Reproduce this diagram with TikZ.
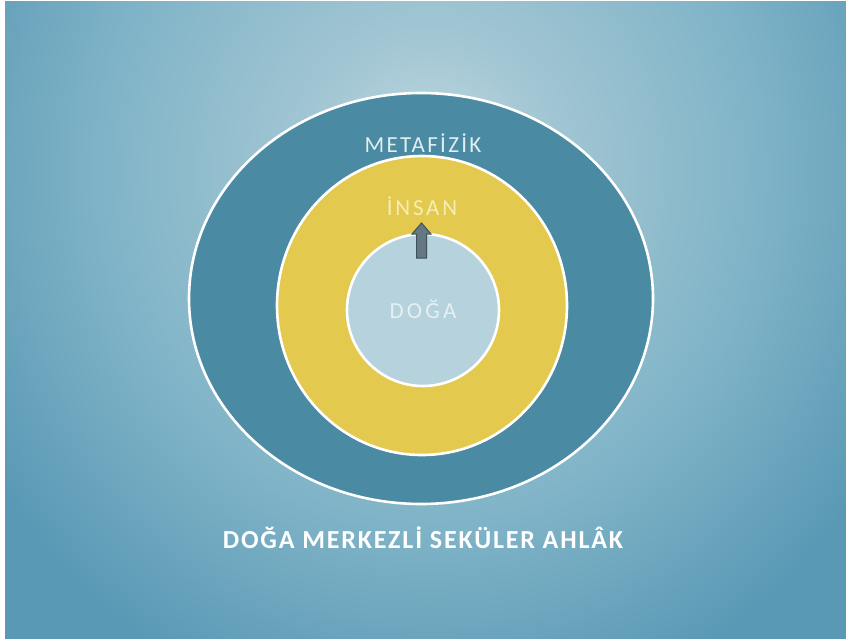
\documentclass[tikz,border=0pt]{standalone}
\usepackage{fontspec}
\setmainfont{Carlito}
\definecolor{bgin}{HTML}{C2DAE2}
\definecolor{bgmid}{HTML}{A2C6D3}
\definecolor{bgmid2}{HTML}{7FB3C7}
\definecolor{bgout}{HTML}{5A99B5}
\definecolor{metafill}{HTML}{4A8AA3}
\definecolor{insanfill}{HTML}{E4C94F}
\definecolor{dogafill}{HTML}{B6D2DC}
\definecolor{metatext}{HTML}{E0EEF2}
\definecolor{insantext}{HTML}{F6EDB4}
\definecolor{dogatext}{HTML}{E6F0F3}
\definecolor{arrowfill}{HTML}{637883}
\definecolor{arrowline}{HTML}{3F525C}
\pgfdeclareradialshading{bgshade}{\pgfpoint{0bp}{0bp}}{color(0bp)=(bgin); color(6bp)=(bgmid); color(16bp)=(bgmid2); color(25bp)=(bgout); color(50bp)=(bgout)}
\tikzset{
  ring/.style={draw=white, line width=2.6pt},
  lbl/.style={inner sep=0pt, anchor=center},
}
\begin{document}
\begin{tikzpicture}[x=1pt,y=-1pt]
\useasboundingbox (0,0) rectangle (846,638);
\fill[white] (0,0) rectangle (846,638);
\begin{scope}
  \clip (5,1) rectangle (860,650);
  \fill[bgout] (5,1) rectangle (860,650);
  \path[shading=bgshade] (430,170) ellipse [x radius=520, y radius=560];
\end{scope}
% rings
\path[ring, fill=metafill] (421,298.5) ellipse [x radius=232, y radius=205.5];
\path[ring, fill=insanfill] (422,305.5) ellipse [x radius=145, y radius=149.5];
\path[ring, fill=dogafill] (423,310) ellipse [x radius=76, y radius=76];
% labels
\node[lbl, text=metatext, font=\fontsize{23}{26}\selectfont\addfontfeatures{LetterSpace=10}] (meta) at (423,143) {METAFİZİK};
\node[lbl, text=insantext, font=\fontsize{23}{26}\selectfont\addfontfeatures{LetterSpace=12}] (insan) at (422,206) {İNSAN};
\node[lbl, text=dogatext, font=\fontsize{23}{26}\selectfont\addfontfeatures{LetterSpace=14}] (doga) at (423,309) {DOĞA};
\node[lbl, text=white, font=\bfseries\fontsize{26}{30}\selectfont\addfontfeatures{LetterSpace=7}] (title) at (423,538) {DOĞA MERKEZLİ SEKÜLER AHLÂK};
% arrow
\coordinate (abase) at (421.5,258);
\coordinate (atip) at (421.5,223);
\filldraw[fill=arrowfill, draw=arrowline, line width=1pt, line join=miter]
  ([shift={(-5,0)}]abase) -- ([shift={(-5,-24)}]abase) -- ([shift={(-9.5,-24)}]abase)
  -- (atip) -- ([shift={(9.5,-24)}]abase) -- ([shift={(5,-24)}]abase)
  -- ([shift={(5,0)}]abase) -- cycle;
\end{tikzpicture}
\end{document}
